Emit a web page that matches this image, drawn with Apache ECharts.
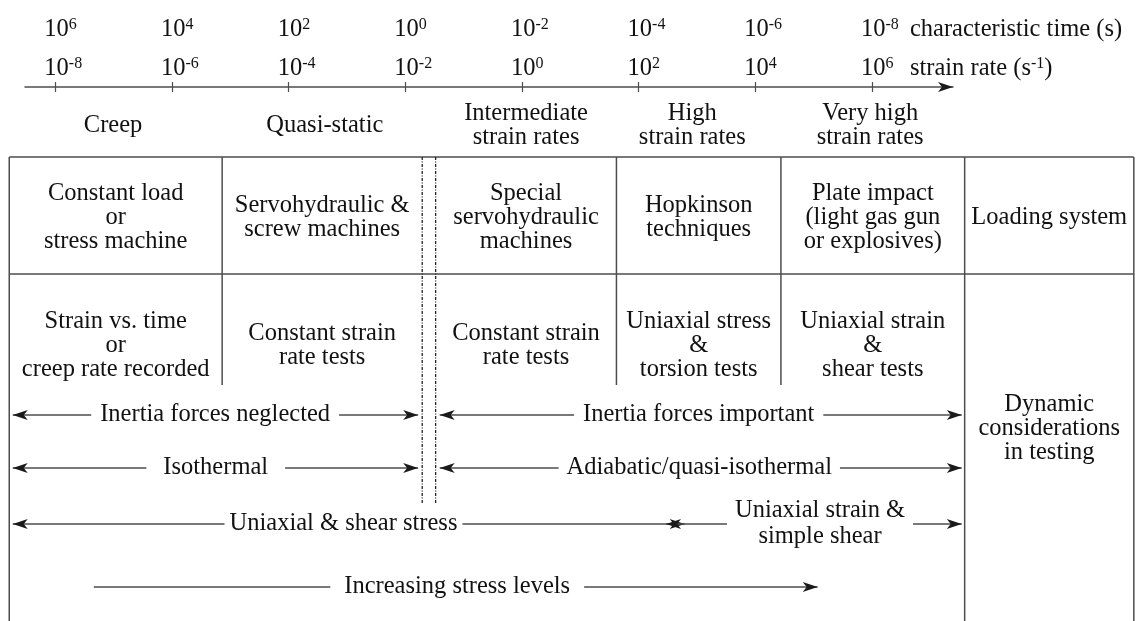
<!DOCTYPE html>
<html>
<head>
<meta charset="utf-8">
<script src="https://cdn.jsdelivr.net/npm/echarts@6/dist/echarts.min.js"></script>
<style>html,body{margin:0;padding:0;background:#fff}#c{width:1136px;height:621px}</style>
</head>
<body>
<div id="c"></div>
<script>
// ---------------- DATA (x values are log10 of strain rate, s^-1) ----------------
const strainRateExp = [-8, -6, -4, -2, 0, 2, 4, 6];
const charTimeExp   = [6, 4, 2, 0, -2, -4, -6, -8];
const axisRange     = [-8.52, 7.39];

const regimeLabels  = ['Creep', 'Quasi-static', 'Intermediate\nstrain rates', 'High\nstrain rates', 'Very high\nstrain rates'];
const regimeCenters = [-7.01, -3.38, 0.07, 2.92, 5.97];

const cellFrom = [-8.79, -5.14, -1.48, 1.62, 4.44, 7.59];
const cellTo   = [-5.14, -1.71, 1.62, 4.44, 7.59, 10.49];
const loadingSystems = ['Constant load\nor\nstress machine', 'Servohydraulic &\nscrew machines', 'Special\nservohydraulic\nmachines', 'Hopkinson\ntechniques', 'Plate impact\n(light gas gun\nor explosives)', 'Loading system'];
const testTypes = ['Strain vs. time\nor\ncreep rate recorded', 'Constant strain\nrate tests', 'Constant strain\nrate tests', 'Uniaxial stress\n&\ntorsion tests', 'Uniaxial strain\n&\nshear tests', 'Dynamic\nconsiderations\nin testing'];

const fullEdges       = [-8.79, 7.59, 10.49];
const partialEdges    = [-5.14, 1.62, 4.44];
const transitionEdges = [-1.71, -1.48];

const bandLabels  = ['Inertia forces neglected', 'Inertia forces important', 'Isothermal', 'Adiabatic/quasi-isothermal', 'Uniaxial & shear stress', 'Uniaxial strain &\nsimple shear', 'Increasing stress levels'];
const bandFrom    = [-8.73, -1.41, -8.73, -1.41, -8.73, 2.47, -7.34];
const bandTo      = [-1.78, 7.54, -1.78, 7.54, 2.79, 7.54, 5.07];
const bandLabelAt = [-5.26, 3.03, -5.25, 3.04, -3.06, 5.11, -1.11];
const bandHeads   = ['both', 'both', 'both', 'both', 'both', 'both', 'end'];

// ---------------- LAYOUT / STYLE ----------------
const FONT = '"Liberation Serif", "Times New Roman", serif';
const FS = 24.5;
const INK = '#111';
const LINE = '#4d4d4d';
const L = {
  axisY: 87, timeRowY: 29.5, rateRowY: 68.5, regimeY: 126,
  tableTop: 157, rowDiv: 274, row1Y: 217.5, row2Y: 346, dynY: 429,
  row2Bottom: 385, dashBottom: 503, bottom: 621,
  bandY: [415, 415, 468, 468, 524, 524, 587],
  bandPad: [9, 9, 17, 8, 5, 8, 14]
};

function head(x, y, dir) {
  const len = 15, w = 5, notch = 11;
  return {
    type: 'polygon',
    shape: { points: [[x, y], [x - dir * len, y - w], [x - dir * notch, y], [x - dir * len, y + w]] },
    style: { fill: '#1a1a1a' }
  };
}
function txt(x, y, text, extra) {
  return {
    type: 'text', x: x, y: y,
    style: Object.assign({
      text: text, fontSize: FS, fontFamily: FONT, fill: INK,
      align: 'center', verticalAlign: 'middle', lineHeight: 24
    }, extra || {})
  };
}
const supRich = {
  b: { fontSize: FS, fontFamily: FONT, fill: INK, lineHeight: 26 },
  n: { fontSize: FS, fontFamily: FONT, fill: INK, lineHeight: 26 },
  s: { fontSize: 16, fontFamily: FONT, fill: INK, lineHeight: 16, verticalAlign: 'top' }
};

// lines of the table: [x1, y1, x2, y2, dashed]
const tableLines = [];
tableLines.push([fullEdges[0], L.tableTop, fullEdges[2], L.tableTop, 0]);
tableLines.push([fullEdges[0], L.rowDiv, fullEdges[2], L.rowDiv, 0]);
fullEdges.forEach(e => tableLines.push([e, L.tableTop, e, L.bottom, 0]));
partialEdges.forEach(e => tableLines.push([e, L.tableTop, e, L.row2Bottom, 0]));
transitionEdges.forEach(e => tableLines.push([e, L.tableTop, e, L.dashBottom, 1]));

const option = {
  animation: false,
  backgroundColor: '#fff',
  grid: { left: 25, right: 183, top: L.axisY, bottom: 0 },
  xAxis: [
    { type: 'value', position: 'top', min: axisRange[0], max: axisRange[1],
      axisLine: { show: true, onZero: false, lineStyle: { color: LINE, width: 1.5 } },
      axisTick: { show: true, customValues: strainRateExp, length: 5, lineStyle: { color: LINE, width: 1.2 } },
      axisLabel: { show: false }, splitLine: { show: false } },
    { type: 'value', position: 'top', min: axisRange[0], max: axisRange[1],
      axisLine: { show: false, onZero: false },
      axisTick: { show: true, inside: true, customValues: strainRateExp, length: 5, lineStyle: { color: LINE, width: 1.2 } },
      axisLabel: { show: false }, splitLine: { show: false } }
  ],
  yAxis: { type: 'value', min: L.axisY, max: L.bottom, inverse: true, show: false },
  series: [
    { // table grid lines
      type: 'custom', silent: true, clip: false,
      data: tableLines,
      renderItem: function (params, api) {
        const a = api.coord([api.value(0), api.value(1)]);
        const b = api.coord([api.value(2), api.value(3)]);
        const dashed = api.value(4) === 1;
        return { type: 'line', shape: { x1: a[0], y1: a[1], x2: b[0], y2: b[1] },
          style: { stroke: dashed ? '#222' : LINE, lineWidth: dashed ? 1.3 : 1.5, lineDash: dashed ? [3, 1.5, 1, 1.5] : null } };
      }
    },
    { // axis arrowhead + axis titles
      type: 'custom', silent: true, clip: false,
      data: [[axisRange[1], L.axisY]],
      renderItem: function (params, api) {
        const p = api.coord([api.value(0), api.value(1)]);
        const lx = api.coord([strainRateExp[strainRateExp.length - 1], 0])[0] + 38;
        return { type: 'group', children: [
          head(p[0], p[1], 1),
          txt(lx, L.timeRowY, 'characteristic time (s)', { align: 'left' }),
          txt(lx, L.rateRowY, '{n|strain rate (s}{s|-1}{n|)}', { align: 'left', rich: supRich })
        ] };
      }
    },
    { // tick labels
      type: 'custom', silent: true, clip: false,
      data: strainRateExp.map((e, i) => [e, charTimeExp[i]]),
      renderItem: function (params, api) {
        const x = api.coord([api.value(0), L.rateRowY])[0] - 11;
        return { type: 'group', children: [
          txt(x, L.rateRowY, '{b|10}{s|' + api.value(0) + '}', { align: 'left', rich: supRich }),
          txt(x, L.timeRowY, '{b|10}{s|' + api.value(1) + '}', { align: 'left', rich: supRich })
        ] };
      }
    },
    { // regime labels
      type: 'custom', silent: true, clip: false,
      data: regimeCenters.map(v => [v, L.regimeY]),
      renderItem: function (params, api) {
        const p = api.coord([api.value(0), api.value(1)]);
        return txt(p[0], p[1], regimeLabels[params.dataIndex]);
      }
    },
    { // cell texts
      type: 'custom', silent: true, clip: false,
      data: cellFrom.map((v, i) => [v, cellTo[i]]),
      renderItem: function (params, api) {
        const i = params.dataIndex;
        const a = api.coord([api.value(0), L.row1Y]);
        const b = api.coord([api.value(1), L.row1Y]);
        const cx = (a[0] + b[0]) / 2;
        const y2 = i === cellFrom.length - 1 ? L.dynY : L.row2Y;
        return { type: 'group', children: [
          txt(cx, L.row1Y, loadingSystems[i]),
          txt(cx, api.coord([0, y2])[1], testTypes[i])
        ] };
      }
    },
    { // bands with arrows
      type: 'custom', silent: true, clip: false,
      data: bandFrom.map((v, i) => [v, bandTo[i], bandLabelAt[i]]),
      renderItem: function (params, api) {
        const i = params.dataIndex;
        const y = L.bandY[i];
        const a = api.coord([api.value(0), y]);
        const b = api.coord([api.value(1), y]);
        const c = api.coord([api.value(2), y]);
        const ch = [{ type: 'line', shape: { x1: a[0], y1: a[1], x2: b[0], y2: b[1] }, style: { stroke: LINE, lineWidth: 1.4 } }];
        if (bandHeads[i] === 'both') ch.push(head(a[0], a[1], -1));
        ch.push(head(b[0], b[1], 1));
        ch.push(txt(c[0], c[1], bandLabels[i], { backgroundColor: '#fff', padding: [1, L.bandPad[i]], lineHeight: 26 }));
        return { type: 'group', children: ch };
      }
    }
  ]
};
echarts.init(document.getElementById('c'), null, { renderer: 'canvas' }).setOption(option);
</script>
</body>
</html>
